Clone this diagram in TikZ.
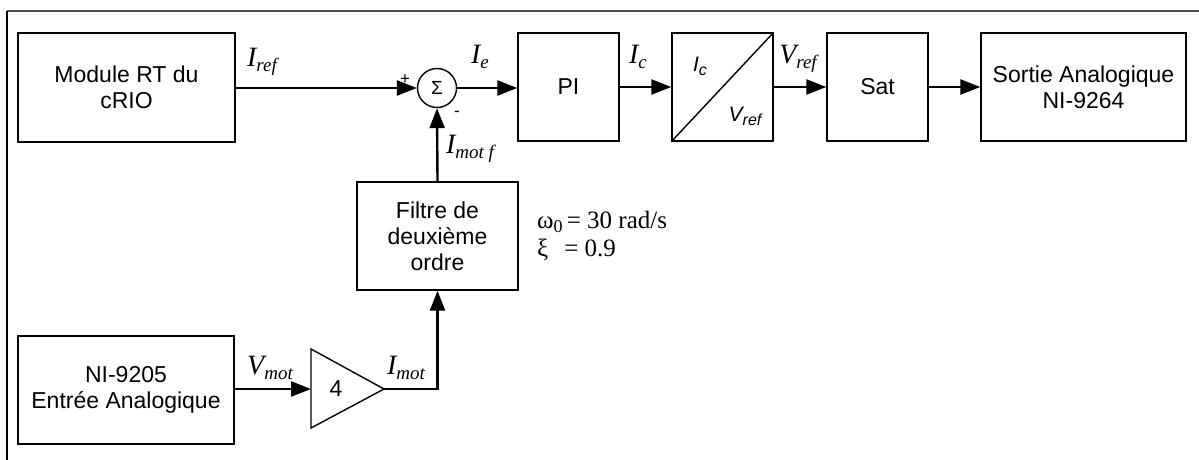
\documentclass[tikz,border=0pt]{standalone}
\usepackage{fontspec}
\setmainfont{Liberation Sans}
\newfontfamily\tnr{Liberation Serif}
\usetikzlibrary{arrows.meta,calc}
\newcommand{\slab}[2]{{\tnr\itshape\fontsize{28}{28}\selectfont #1\raisebox{-5pt}{\fontsize{19}{19}\selectfont #2}}}
\newcommand{\alab}[2]{{\itshape\fontsize{21}{21}\selectfont #1\raisebox{-4pt}{\fontsize{16}{16}\selectfont #2}}}
\begin{document}
\begin{tikzpicture}[x=1pt,y=-1pt,
  blk/.style={draw, line width=1.4pt, inner sep=0pt, align=center,
     font=\fontsize{23}{26}\selectfont},
  sig/.style={line width=2.4pt, -{Triangle[length=20pt,width=15pt]}},
  lab/.style={inner sep=0pt}]
\useasboundingbox (0,0) rectangle (1199,460);
% frame (top and left edges)
\draw[line width=1.2pt, black!70] (7,11) -- (1199,11);
\draw[line width=1.2pt] (7,11) -- (7,460);

% top row
\node[blk, minimum width=217pt, minimum height=109pt] (modrt) at (126.5,87.5) {Module RT du\\cRIO};
\node[draw, circle, line width=1.4pt, minimum size=39pt, inner sep=0pt,
      font=\fontsize{19}{19}\selectfont] (sum) at (437,88) {Σ};
\node[blk, minimum width=101pt, minimum height=108pt] (pi) at (568.5,87) {PI};
\node[blk, minimum width=101pt, minimum height=108pt] (iv) at (722.5,87) {};
\draw[line width=1.4pt] (iv.south west) -- (iv.north east);
\node[lab] (ivc) at (700,66) {\alab{I}{c}};
\node[lab] (ivv) at (745,116) {\alab{V}{ref}};
\node[blk, minimum width=101pt, minimum height=108pt] (sat) at (877.5,87) {Sat};
\node[blk, minimum width=205pt, minimum height=108pt] (sortie) at (1083.5,87) {Sortie Analogique\\NI-9264};

% bottom row
\node[blk, minimum width=216pt, minimum height=108pt] (ni) at (126,390) {NI-9205\\Entr\'ee Analogique};
\coordinate (gin) at (311,389);
\coordinate (gout) at (384,389);
\draw[line width=1.4pt] (311,349) -- (gout) -- (311,428) -- cycle;
\node[lab, font=\fontsize{23}{23}\selectfont] (gk) at (336,389) {4};
\node[blk, minimum width=161pt, minimum height=108pt] (filt) at (437.5,236) {Filtre de\\deuxi\`eme\\ordre};

% connectors
\draw[sig] (modrt.east |- sum.west) -- (sum.west);
\draw[sig] (sum.east) -- (pi.west |- sum.east);
\draw[sig] (pi.east) -- (iv.west);
\draw[sig] (iv.east) -- (sat.west);
\draw[sig] (sat.east) -- (sortie.west);
\draw[sig] (ni.east |- gin) -- (gin);
\draw[sig] (gout) -- (filt.south |- gout) -- (filt.south);
\draw[sig] (filt.north) -- (sum.south);

% signal labels
\node[lab] (lref) at (262,62) {\slab{I}{ref}};
\node[lab] (le) at (480,57) {\slab{I}{e}};
\node[lab] (lc) at (638,57) {\slab{I}{c}};
\node[lab] (lvref) at (798,59) {\slab{V}{ref}};
\node[lab] (lmotf) at (470,149) {\slab{I}{mot f}};
\node[lab] (lvmot) at (270,368) {\slab{V}{mot}};
\node[lab] (limot) at (406,368) {\slab{I}{mot}};
\node[lab, font=\fontsize{17}{17}\selectfont] (plus) at (405,80) {+};
\node[lab, font=\fontsize{17}{17}\selectfont] (minus) at (457,114) {-};

% filter parameters
\node[lab, anchor=west, font=\tnr\fontsize{25}{25}\selectfont] (w0) at (537,222) {ω\raisebox{-4pt}{\fontsize{18}{18}\selectfont 0}\,= 30 rad/s};
\node[lab, anchor=west, font=\tnr\fontsize{25}{25}\selectfont] (xi) at (537,250) {ξ\hspace{16pt}= 0.9};
\end{tikzpicture}
\end{document}
